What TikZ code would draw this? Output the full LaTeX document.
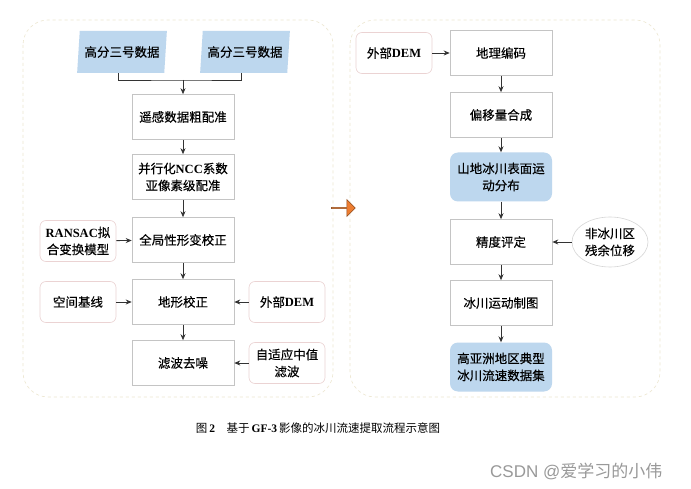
\documentclass[tikz,border=0pt]{standalone}
\usepackage{fontspec}
\setmainfont{Noto Sans CJK SC}[FakeBold=0.3]
\newfontfamily\latinface{Liberation Serif}
\newfontfamily\markface{Liberation Sans}
\newfontfamily\plainface{Noto Sans CJK SC}
\usetikzlibrary{shapes.geometric,shapes.arrows,arrows.meta}
\definecolor{skyfill}{HTML}{BDD7EE}
\definecolor{boxline}{HTML}{C4C4C4}
\definecolor{sideline}{HTML}{EBD3D3}
\definecolor{panelline}{HTML}{ECE6CF}
\definecolor{flowarrow}{HTML}{ED7D31}
\newcommand{\lat}[1]{{\latinface\bfseries #1}}

\begin{document}
\begin{tikzpicture}[x=1pt,y=-1pt,
  every node/.style={font=\fontsize{12.5}{17}\selectfont,align=center,inner sep=1pt},
  stepbox/.style={draw=boxline,line width=0.6pt,minimum width=102pt,minimum height=45pt},
  resultbox/.style={fill=skyfill,rounded corners=8pt,minimum width=102pt,minimum height=49pt},
  sidebox/.style={draw=sideline,line width=0.6pt,rounded corners=6pt,minimum width=76pt,minimum height=41pt},
  databox/.style={trapezium,trapezium left angle=80,trapezium right angle=100,
    trapezium stretches=true,fill=skyfill,minimum width=90pt,minimum height=42pt},
  panel/.style={draw=panelline,dashed,rounded corners=25pt,line width=0.6pt},
  link/.style={-{Stealth[length=6pt,width=5pt]},line width=0.8pt,draw=black!80}]
  \fill[white] (0,0) rectangle (691,489);
  \useasboundingbox (0,0) rectangle (691,489);

  % two panels
  \draw[panel] (23,20) rectangle (333,397);
  \draw[panel] (350,20) rectangle (660,397);

  % left panel
  \node[databox] (gf1) at (122,52) {高分三号数据};
  \node[databox] (gf2) at (245,52) {高分三号数据};
  \node[stepbox] (coarse) at (183,117) {遥感数据粗配准};
  \node[stepbox] (ncc) at (183,177) {并行化\lat{NCC}系数\\亚像素级配准};
  \node[stepbox] (glob) at (183,240) {全局性形变校正};
  \node[stepbox] (terr) at (183,302) {地形校正};
  \node[stepbox] (denoise) at (183,363) {滤波去噪};
  \node[sidebox] (ransac) at (78,241) {\lat{RANSAC}拟\\合变换模型};
  \node[sidebox] (baseline) at (78,302) {空间基线};
  \node[sidebox] (demA) at (287,302) {外部\lat{DEM}};
  \node[sidebox] (median) at (287,363) {自适应中值\\滤波};

  \coordinate (join) at (183,80);
  \draw[line width=0.8pt,black!80] ([xshift=-4pt]gf1.south) |- (join) -| ([xshift=-4pt]gf2.south);
  \draw[link] (join) -- (coarse);
  \draw[link] (coarse) -- (ncc);
  \draw[link] (ncc) -- (glob);
  \draw[link] (glob) -- (terr);
  \draw[link] (terr) -- (denoise);
  \draw[link] (ransac) -- (glob);
  \draw[link] (baseline) -- (terr);
  \draw[link] (demA) -- (terr);
  \draw[link] (median) -- (denoise);

  % arrow between panels
  \node[single arrow,fill=flowarrow,draw=flowarrow!60!black,line width=0.5pt,
    minimum height=24pt,minimum width=17pt,single arrow head extend=3.5pt,inner sep=0pt] (pass) at (343,208) {};

  % right panel
  \node[sidebox] (demB) at (394,53) {外部\lat{DEM}};
  \node[stepbox] (geocode) at (501,53) {地理编码};
  \node[stepbox] (offset) at (501,115) {偏移量合成};
  \node[resultbox] (motion) at (501,177) {山地冰川表面运\\动分布};
  \node[stepbox] (accuracy) at (501,242) {精度评定};
  \node[ellipse,draw=boxline!70,line width=0.6pt,minimum width=76pt,minimum height=50pt,inner sep=0pt]
    (residual) at (610,242) {非冰川区\\残余位移};
  \node[stepbox] (mapping) at (501,303) {冰川运动制图};
  \node[resultbox] (dataset) at (501,367) {高亚洲地区典型\\冰川流速数据集};

  \draw[link] (demB) -- (geocode);
  \draw[link] (geocode) -- (offset);
  \draw[link] (offset) -- (motion);
  \draw[link] (motion) -- (accuracy);
  \draw[link] (residual) -- (accuracy);
  \draw[link] (accuracy) -- (mapping);
  \draw[link] (mapping) -- (dataset);

  % caption and mark
  \node[font=\fontsize{11.5}{14}\plainface] (caption) at (318,428)
    {图\,\lat{2}\quad 基于\,\lat{GF-3}\,影像的冰川流速提取流程示意图};
  \node[font=\fontsize{17}{20}\plainface,text=black!40,anchor=west] (mark) at (489,471)
    {{\markface CSDN @}爱学习的小伟};
\end{tikzpicture}
\end{document}
